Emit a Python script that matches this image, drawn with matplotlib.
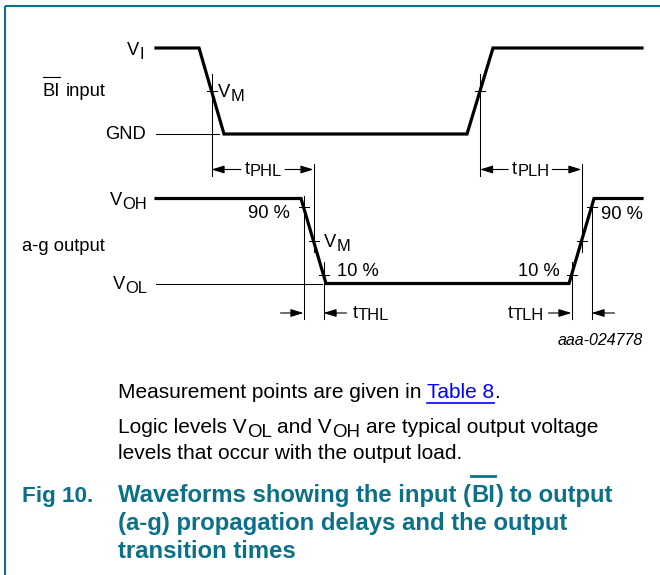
import numpy as np
import matplotlib
matplotlib.use("Agg")
import matplotlib.pyplot as plt

plt.rcParams['font.family'] = ['Liberation Sans', 'DejaVu Sans']

# ---------------- data ----------------
# waveform corner times (arbitrary time units) and logic levels (0 = low, 1 = high)
input_time = [156, 199, 224, 467, 493, 642]
input_level = [1, 1, 0, 0, 1, 1]
output_time = [156, 301, 326, 569, 594, 642]
output_level = [1, 1, 0, 0, 1, 1]
# measurement thresholds (fraction of swing)
vm_level = 0.5
lo_level = 0.1
hi_level = 0.9
# texts
input_name = ("BI", " input")
output_name = "a-g output"
fig_id = "aaa-024778"
note1 = ("Measurement points are given in", "Table 8", ".")
note2 = [("Logic levels V", "n"), ("OL", "s"), (" and V", "n"), ("OH", "s"),
         (" are typical output voltage", "n")]
note3 = "levels that occur with the output load."
cap_num = "Fig 10."
cap_line1 = ("Waveforms showing the input (", "BI", ") to output")
cap_line2 = "(a-g) propagation delays and the output"
cap_line3 = "transition times"

TEAL = '#0b7189'
W, H = 660, 575

fig = plt.figure(figsize=(W / 100, H / 100), dpi=100)
ax = fig.add_axes([0, 0, 1, 1])
ax.set_xlim(0, W)
ax.set_ylim(H, 0)
ax.axis('off')


def wave_axes(pix_hi, pix_lo):
    a = fig.add_axes([0, 0, 1, 1])
    a.set_xlim(0, W)
    span = pix_lo - pix_hi
    a.set_ylim((pix_lo - H) / span, pix_lo / span)
    a.axis('off')
    a.patch.set_alpha(0)
    return a


ax_in = wave_axes(48, 134)
ax_out = wave_axes(198.5, 283.5)

renderer = fig.canvas.get_renderer()


def width(t):
    return t.get_window_extent(renderer).width


def space_w(size, **kw):
    a = ax.text(0, 0, "a a", fontsize=size, **kw)
    b = ax.text(0, 0, "aa", fontsize=size, **kw)
    w = width(a) - width(b)
    a.remove(); b.remove()
    return w


def seq(x, y, parts, size, ha='left', sub_scale=0.9, drop=4.0, color='black', **kw):
    """parts: list of (text, 'n'|'s'). Leading/trailing spaces handled manually."""
    sw = space_w(size, **kw)
    items = []
    cur = 0.0
    for txt, kind in parts:
        lead = len(txt) - len(txt.lstrip(' '))
        trail = len(txt) - len(txt.rstrip(' '))
        core = txt.strip(' ')
        cur += lead * sw
        fs = size * (sub_scale if kind == 's' else 1.0)
        yy = y + (drop if kind == 's' else 0)
        t = ax.text(0, yy, core, fontsize=fs, va='baseline', ha='left', color=color, **kw)
        items.append((t, cur))
        cur += width(t) + trail * sw
    x0 = x if ha == 'left' else (x - cur if ha == 'right' else x - cur / 2)
    for t, off in items:
        t.set_x(x0 + off)
    return x0, x0 + cur, [t for t, _ in items]


def cross(times, levels, seg, lv):
    t0, t1 = times[seg], times[seg + 1]
    l0, l1 = levels[seg], levels[seg + 1]
    return t0 + (lv - l0) / (l1 - l0) * (t1 - t0)


def arrow(a, tail, tip, y):
    a.annotate('', xy=(tip, y), xytext=(tail, y),
               arrowprops=dict(arrowstyle='-|>,head_length=0.55,head_width=0.17',
                               mutation_scale=14, lw=0.8, color='black',
                               shrinkA=0, shrinkB=0))


THICK = 2.3
THIN = 0.75
LBL = 13.2

# ---------------- frame ----------------
ax.plot([5, 5], [H, 6], color=TEAL, lw=1.5, solid_capstyle='butt')
ax.plot([5, W], [6, 6], color=TEAL, lw=1.5, solid_capstyle='butt')

# ---------------- input waveform ----------------
ax_in.plot(input_time, input_level, color='black', lw=THICK, solid_joinstyle='miter')
ax_in.plot([input_time[0], 219], [0, 0], color='black', lw=THIN)  # GND reference

in_fall_vm = cross(input_time, input_level, 1, vm_level)
in_rise_vm = cross(input_time, input_level, 3, vm_level)
for tx in (in_fall_vm, in_rise_vm):
    ax.plot([tx, tx], [74, 176], color='black', lw=THIN)
    ax_in.plot([tx - 5, tx + 5], [vm_level, vm_level], color='black', lw=THIN)

# ---------------- output waveform ----------------
ax_out.plot(output_time, output_level, color='black', lw=THICK, solid_joinstyle='miter')
ax_out.plot([output_time[0], 322], [0, 0], color='black', lw=THIN)  # VOL reference

out_fall_vm = cross(output_time, output_level, 1, vm_level)
out_fall_90 = cross(output_time, output_level, 1, hi_level)
out_fall_10 = cross(output_time, output_level, 1, lo_level)
out_rise_vm = cross(output_time, output_level, 3, vm_level)
out_rise_10 = cross(output_time, output_level, 3, lo_level)
out_rise_90 = cross(output_time, output_level, 3, hi_level)

for tx in (out_fall_vm, out_rise_vm):
    ax.plot([tx, tx], [164, 252], color='black', lw=THIN)
    ax_out.plot([tx - 5, tx + 5], [vm_level, vm_level], color='black', lw=THIN)
ax.plot([out_fall_90, out_fall_90], [196, 319], color='black', lw=THIN)
ax.plot([out_fall_10, out_fall_10], [262, 319], color='black', lw=THIN)
ax.plot([out_rise_10, out_rise_10], [262, 319], color='black', lw=THIN)
ax.plot([out_rise_90, out_rise_90], [203, 319], color='black', lw=THIN)
for tx, lv in ((out_fall_90, hi_level), (out_fall_10, lo_level),
               (out_rise_10, lo_level), (out_rise_90, hi_level)):
    ax_out.plot([tx - 5, tx + 5], [lv, lv], color='black', lw=THIN)

# ---------------- labels ----------------
seq(144, 55, [("V", 'n'), ("I", 's')], LBL, ha='right')
x0, x1, ts = seq(43, 96, [(input_name[0], 'n'), (input_name[1], 'n')], LBL)
bb = ts[0].get_window_extent(renderer)
ax.plot([bb.x0, bb.x1], [77, 77], color='black', lw=0.8)
seq(218, 97, [("V", 'n'), ("M", 's')], LBL)
ax.text(146, 139, "GND", fontsize=LBL, ha='right', va='baseline')

seq(147, 205, [("V", 'n'), ("OH", 's')], LBL, ha='right')
ax.text(22, 251, output_name, fontsize=LBL, ha='left', va='baseline')
seq(147, 289, [("V", 'n'), ("OL", 's')], LBL, ha='right')
ax.text(290, 218, "90 %", fontsize=LBL, ha='right', va='baseline')
seq(324, 247, [("V", 'n'), ("M", 's')], LBL)
ax.text(337, 276, "10 %", fontsize=LBL, ha='left', va='baseline')
ax.text(560, 276, "10 %", fontsize=LBL, ha='right', va='baseline')
ax.text(601, 219, "90 %", fontsize=LBL, ha='left', va='baseline')

# propagation delays
y_p = 169.5
a0, a1, _ = seq((in_fall_vm + out_fall_vm) / 2 + 1, y_p + 4.5, [("t", 'n'), ("PHL", 's')],
                LBL, ha='center', drop=2.5)
arrow(ax, a0 - 4, in_fall_vm, y_p)
arrow(ax, a1 + 3, out_fall_vm, y_p)
a0, a1, _ = seq((in_rise_vm + out_rise_vm) / 2, y_p + 4.5, [("t", 'n'), ("PLH", 's')],
                LBL, ha='center', drop=2.5)
arrow(ax, a0 - 4, in_rise_vm, y_p)
arrow(ax, a1 + 3, out_rise_vm, y_p)

# transition times
y_t = 313
arrow(ax, out_fall_90 - 23, out_fall_90, y_t)
arrow(ax, out_fall_10 + 23, out_fall_10, y_t)
seq(out_fall_10 + 29, y_t + 4.5, [("t", 'n'), ("THL", 's')], LBL, drop=2.5)
arrow(ax, out_rise_10 - 23, out_rise_10, y_t)
arrow(ax, out_rise_90 + 23, out_rise_90, y_t)
seq(out_rise_10 - 28, y_t + 4.5, [("t", 'n'), ("TLH", 's')], LBL, ha='right', drop=2.5)

ax.text(643, 345, fig_id, fontsize=11.5, style='italic', ha='right', va='baseline')

# ---------------- notes ----------------
BODY = 15
x0, x1, ts = seq(118, 398, [(note1[0] + " ", 'n')], BODY)
t_tab = ax.text(x1, 398, note1[1], fontsize=BODY, color='#0000ff', va='baseline')
bb = t_tab.get_window_extent(renderer)
ax.plot([x1, x1 + bb.width], [403, 403], color='#0000ff', lw=1.2)
ax.text(x1 + bb.width, 398, note1[2], fontsize=BODY, va='baseline')
seq(118, 433, note2, BODY, drop=4)
ax.text(118, 459, note3, fontsize=BODY, va='baseline')

# ---------------- caption ----------------
CAP = 17.2
ax.text(22, 502, cap_num, fontsize=16.2, fontweight='bold', color=TEAL, va='baseline')
x0, x1, ts = seq(118, 502, [(cap_line1[0], 'n'), (cap_line1[1], 'n'), (cap_line1[2], 'n')],
                 CAP, color=TEAL, fontweight='bold')
bb = ts[1].get_window_extent(renderer)
ax.plot([bb.x0, bb.x1], [476, 476], color=TEAL, lw=2.0)
ax.text(118, 530, cap_line2, fontsize=CAP, fontweight='bold', color=TEAL, va='baseline')
ax.text(118, 558, cap_line3, fontsize=CAP, fontweight='bold', color=TEAL, va='baseline')

fig.savefig("out.png", dpi=100)
